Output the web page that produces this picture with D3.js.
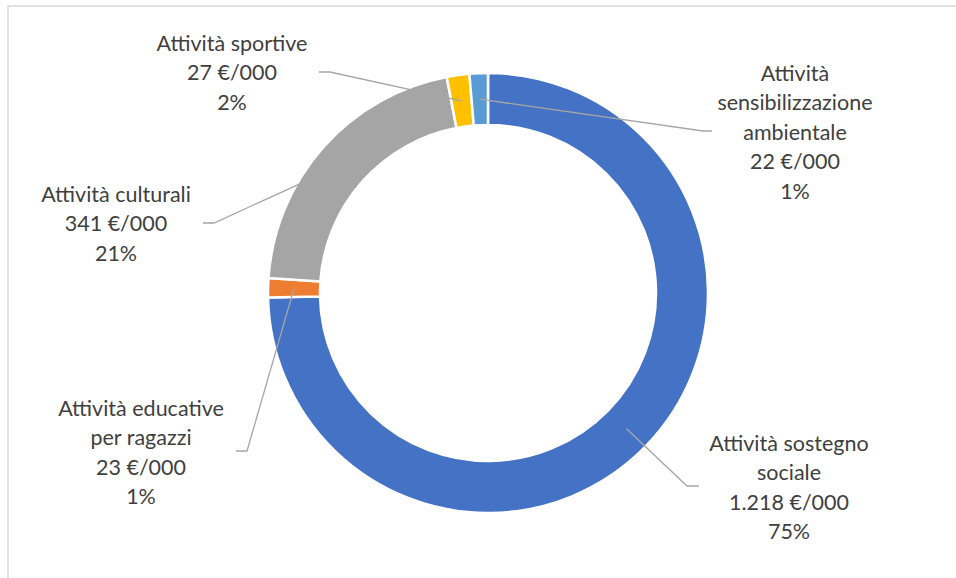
<!DOCTYPE html>
<html>
<head>
<meta charset="utf-8">
<script src="https://cdn.jsdelivr.net/npm/d3@7"></script>
<style>
  html, body { margin: 0; padding: 0; background: #fff; }
  svg { display: block; }
</style>
</head>
<body>
<div id="chart"></div>
<script>
// chart data (€/000), clockwise from 12 o'clock
const categories = ['Attività sostegno sociale', 'Attività educative per ragazzi', 'Attività culturali', 'Attività sportive', 'Attività sensibilizzazione ambientale'];
const values = [1218, 23, 341, 27, 22];
const valueLabels = ['1.218 €/000', '23 €/000', '341 €/000', '27 €/000', '22 €/000'];
const pctLabels = ['75%', '1%', '21%', '2%', '1%'];
const nameLines = [['Attività sostegno', 'sociale'], ['Attività educative', 'per ragazzi'], ['Attività culturali'], ['Attività sportive'], ['Attività', 'sensibilizzazione', 'ambientale']];
const colors = ['#4472C4', '#ED7D31', '#A5A5A5', '#FFC000', '#5B9BD5'];

// label layout: text centre x, first line y, leader elbow
const labelPos = [
  { x: 789, y: 443, elbow: [[687, 486], [699, 486]] },
  { x: 141, y: 408, elbow: [[247, 451], [236, 451]] },
  { x: 116, y: 194, elbow: [[214, 223], [203, 223]] },
  { x: 232, y: 43,  elbow: [[330, 72], [319, 72]] },
  { x: 795, y: 73,  elbow: [[703, 131], [712, 131]] }
];

const W = 956, H = 578;
const cx = 488, cy = 293, rOuter = 220, rInner = 168;
const lineH = 29.5;

const svg = d3.select('#chart').append('svg')
  .attr('width', W).attr('height', H)
  .style('font-family', 'Lato, "Open Sans", sans-serif');

// chart frame (only top and left edges visible)
svg.append('path')
  .attr('d', `M8,${H}V6H${W}`)
  .attr('fill', 'none').attr('stroke', '#d9d9d9').attr('stroke-width', 1.5);

const g = svg.append('g').attr('transform', `translate(${cx},${cy})`);

const pie = d3.pie().sort(null).value(d => d);
const arcs = pie(values);
const arc = d3.arc().innerRadius(rInner).outerRadius(rOuter);
const mid = d3.arc().innerRadius((rInner + rOuter) / 2).outerRadius((rInner + rOuter) / 2);

g.selectAll('path.slice').data(arcs).enter().append('path')
  .attr('class', 'slice')
  .attr('d', arc)
  .attr('fill', (d, i) => colors[i])
  .attr('stroke', '#fff').attr('stroke-width', 2.5);

// leader lines
const line = d3.line();
svg.selectAll('path.leader').data(arcs).enter().append('path')
  .attr('class', 'leader')
  .attr('d', (d, i) => {
    const c = mid.centroid(d);
    return line([[c[0] + cx, c[1] + cy], ...labelPos[i].elbow]);
  })
  .attr('fill', 'none').attr('stroke', '#A6A6A6').attr('stroke-width', 1.3);

// labels
const labels = svg.selectAll('text.lbl').data(categories).enter().append('text')
  .attr('class', 'lbl')
  .attr('text-anchor', 'middle')
  .attr('fill', '#404040')
  .style('font-size', '21.5px');

labels.each(function (d, i) {
  const lines = nameLines[i].concat([valueLabels[i], pctLabels[i]]);
  const t = d3.select(this);
  lines.forEach((s, k) => {
    t.append('tspan')
      .attr('x', labelPos[i].x)
      .attr('y', labelPos[i].y + k * lineH)
      .attr('dy', '0.35em')
      .text(s);
  });
});
</script>
</body>
</html>
